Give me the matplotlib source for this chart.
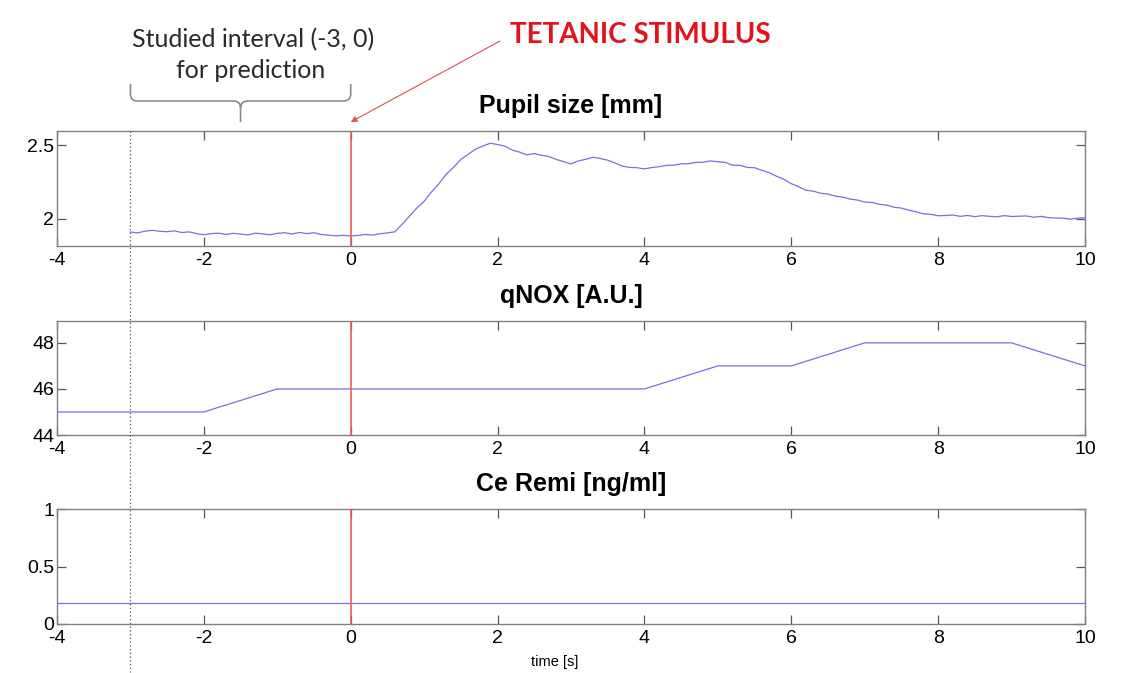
import matplotlib
matplotlib.use('Agg')
from matplotlib import pyplot as plt
from matplotlib.path import Path
from matplotlib.patches import PathPatch
from matplotlib.lines import Line2D
from matplotlib.ticker import FormatStrFormatter
import matplotlib.transforms as mtransforms
import numpy as np

# pupil size [mm], sampled every 0.1 s from -3 s to 10 s
pupil_time = np.round(np.arange(-3.0, 10.001, 0.1), 1)
pupil_size = [
    1.910, 1.904, 1.916, 1.921, 1.915, 1.912, 1.918, 1.906, 1.911, 1.899, 1.891,
    1.899, 1.902, 1.893, 1.901, 1.896, 1.890, 1.902, 1.897, 1.891, 1.901,
    1.905, 1.896, 1.907, 1.899, 1.905, 1.893, 1.888, 1.884, 1.887, 1.883,
    1.887, 1.893, 1.889, 1.898, 1.904, 1.911, 1.962, 2.018, 2.072, 2.118,
    2.182, 2.236, 2.302, 2.348, 2.402, 2.437, 2.472, 2.493, 2.512, 2.503,
    2.492, 2.466, 2.452, 2.433, 2.442, 2.430, 2.422, 2.402, 2.387, 2.372,
    2.392, 2.403, 2.417, 2.408, 2.397, 2.378, 2.357, 2.348, 2.346, 2.338,
    2.347, 2.353, 2.362, 2.363, 2.372, 2.373, 2.382, 2.383, 2.392, 2.386,
    2.382, 2.363, 2.362, 2.348, 2.346, 2.328, 2.312, 2.288, 2.267, 2.238,
    2.217, 2.193, 2.187, 2.173, 2.167, 2.153, 2.147, 2.133, 2.127, 2.113,
    2.110, 2.098, 2.092, 2.078, 2.072, 2.058, 2.047, 2.033, 2.030, 2.020,
    2.022, 2.025, 2.016, 2.022, 2.014, 2.021, 2.016, 2.013, 2.021, 2.015,
    2.017, 2.019, 2.010, 2.016, 2.008, 2.005, 2.004, 1.997, 2.004, 2.007,
]

# qNOX index [A.U.]
qnox_time = [-4, -2, -1, 4, 5, 6, 7, 9, 10]
qnox_value = [45, 45, 46, 46, 47, 47, 48, 48, 47]

# remifentanil effect-site concentration [ng/ml]
remi_time = [-4, 10]
remi_value = [0.18, 0.18]

stimulus_time = 0
interval = (-3, 0)
xticks = [-4, -2, 0, 2, 4, 6, 8, 10]

plt.rcParams['font.family'] = ['Liberation Sans', 'DejaVu Sans']
plt.rcParams['axes.unicode_minus'] = False

W, H = 1121, 673
fig = plt.figure(figsize=(W / 100, H / 100), dpi=100)


def box(top, bottom):
    return [57 / W, 1 - bottom / H, 1028 / W, (bottom - top) / H]


def fy(p):
    return 1 - p / H


ax1 = fig.add_axes(box(131, 246))
ax2 = fig.add_axes(box(321, 435))
ax3 = fig.add_axes(box(509, 624))

line_col = '#7272e6'
red_col = '#e45c5c'

ax1.plot(pupil_time, pupil_size, color=line_col, lw=0.9)
ax1.set_ylim(1.815, 2.595)
ax1.set_yticks([2, 2.5])
ax1.set_title('Pupil size [mm]', fontsize=18, fontweight='bold', pad=13)

ax2.plot(qnox_time, qnox_value, color=line_col, lw=0.9)
ax2.set_ylim(44, 48.95)
ax2.set_yticks([44, 46, 48])
ax2.set_title('qNOX [A.U.]', fontsize=18, fontweight='bold', pad=13)

ax3.plot(remi_time, remi_value, color=line_col, lw=0.9)
ax3.set_ylim(0, 1)
ax3.set_yticks([0, 0.5, 1])
ax3.set_title('Ce Remi [ng/ml]', fontsize=18, fontweight='bold', pad=13)
ax3.set_xlabel('time [s]', fontsize=10.5)
ax3.xaxis.set_label_coords((555 - 57) / 1028, -0.27)

for ax in (ax1, ax2, ax3):
    ax.axvline(stimulus_time, color=red_col, lw=1.2, zorder=3)
    ax.set_xlim(-4, 10)
    ax.set_xticks(xticks)
    ax.yaxis.set_major_formatter(FormatStrFormatter('%g'))
    ax.tick_params(direction='in', length=6.5, width=0.9, top=True, right=True,
                   labelsize=14, color='#555555', pad=4)
    ax.tick_params(axis='y', pad=2)
    for s in ax.spines.values():
        s.set_color('#808080')
        s.set_linewidth(1.0)

# dotted marker of the interval start, across all panels
tr = mtransforms.blended_transform_factory(ax1.transData, fig.transFigure)
fig.add_artist(Line2D([interval[0], interval[0]], [fy(131), fy(672)],
                      transform=tr, color='#555555', lw=0.9, ls=(0, (1, 2))))

# brace over the studied interval
mid = (interval[0] + interval[1]) / 2
verts = [(interval[0], fy(84)), (interval[0], fy(94)), (interval[0], fy(101)), (interval[0] + 0.1, fy(101)),
         (mid - 0.1, fy(101)), (mid, fy(101)), (mid, fy(108)), (mid, fy(122)),
         (interval[1], fy(84)), (interval[1], fy(94)), (interval[1], fy(101)), (interval[1] - 0.1, fy(101)),
         (mid + 0.1, fy(101)), (mid, fy(101)), (mid, fy(108))]
codes = [Path.MOVETO, Path.LINETO, Path.CURVE3, Path.CURVE3,
         Path.LINETO, Path.CURVE3, Path.CURVE3, Path.LINETO,
         Path.MOVETO, Path.LINETO, Path.CURVE3, Path.CURVE3,
         Path.LINETO, Path.CURVE3, Path.CURVE3]
fig.add_artist(PathPatch(Path(verts, codes), transform=tr, fill=False,
                         edgecolor='#8a8a8a', lw=1.2))

fig.text(253 / W, fy(40), 'Studied interval (-3, 0)', family=['Lato', 'DejaVu Sans'],
         fontsize=18, color='#2a2a2a', ha='center', va='center')
fig.text(251 / W, fy(70), 'for prediction', family=['Lato', 'DejaVu Sans'],
         fontsize=18, color='#2a2a2a', ha='center', va='center')

fig.text(640 / W, fy(35), 'TETANIC STIMULUS', family=['Lato', 'DejaVu Sans'],
         fontsize=20, fontweight='bold', color='#e3121b', ha='center', va='center')
ax1.annotate('', xy=(stimulus_time, fy(122)), xycoords=tr,
             xytext=(500 / W, fy(41)), textcoords='figure fraction',
             arrowprops=dict(arrowstyle='-|>', color='#e05050', lw=0.8,
                             mutation_scale=9, shrinkA=0, shrinkB=0))

fig.savefig('out.png', dpi=100)
